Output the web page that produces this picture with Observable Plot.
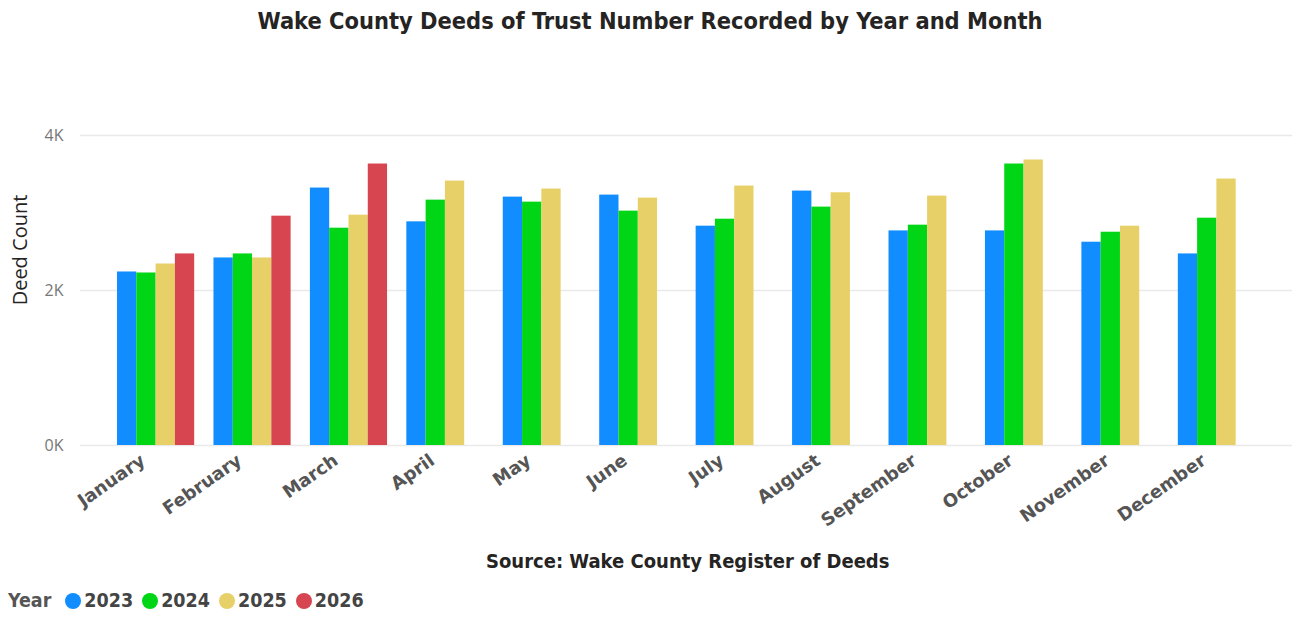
<!DOCTYPE html>
<html>
<head>
<meta charset="utf-8">
<script src="https://cdn.jsdelivr.net/npm/d3@7"></script>
<script src="https://cdn.jsdelivr.net/npm/@observablehq/plot@0.6"></script>
<style>
  html, body { margin: 0; padding: 0; background: #fff; }
  #wrap { position: relative; width: 1300px; height: 626px; overflow: hidden; }
  #title { position: absolute; top: 7px; left: 0; width: 1300px; text-align: center;
    font-family: "DejaVu Sans Condensed", "DejaVu Sans", sans-serif; font-weight: bold; font-size: 23.4px; color: #252423; white-space: nowrap; }
  #chart { position: absolute; top: 45px; left: 0; }
  #ylabel { position: absolute; left: 19px; top: 250px; transform: translate(-50%, -50%) rotate(-90deg);
    font-family: "Open Sans", sans-serif; font-size: 20px; color: #252423; white-space: nowrap; }
  #caption { position: absolute; top: 549px; left: 486px; width: 400px; text-align: center;
    font-family: "DejaVu Sans Condensed", "DejaVu Sans", sans-serif; font-weight: bold; font-size: 20px; color: #252423; white-space: nowrap; }
  #legend { position: absolute; top: 589px; left: 8px; display: flex; align-items: center;
    font-family: "DejaVu Sans Condensed", "DejaVu Sans", sans-serif; font-weight: bold; font-size: 19.5px; color: #444; }
  #legend .hd { color: #555; margin-right: 14px; }
  #legend .it { display: flex; align-items: center; margin-right: 9px; }
  #legend .dot { width: 16px; height: 16px; border-radius: 50%; margin-right: 3px; }
</style>
</head>
<body>
<div id="wrap">
  <div id="title">Wake County Deeds of Trust Number Recorded by Year and Month</div>
  <div id="chart"></div>
  <div id="ylabel">Deed Count</div>
  <div id="caption">Source: Wake County Register of Deeds</div>
  <div id="legend"></div>
</div>
<script>
const months = ["January","February","March","April","May","June","July","August","September","October","November","December"];
const years = ["2023","2024","2025","2026"];
const colors = ["#118DFF","#00D615","#E8D068","#D64550"];
const v2023 = [2239, 2420, 3322, 2886, 3205, 3231, 2830, 3283, 2769, 2769, 2623, 2472];
const v2024 = [2226, 2472, 2804, 3166, 3140, 3024, 2920, 3076, 2843, 3632, 2752, 2933];
const v2025 = [2342, 2420, 2972, 3412, 3309, 3192, 3348, 3261, 3218, 3684, 2830, 3438];
const v2026 = [2472, 2959, 3632];
const yTicks = [0, 2000, 4000];

const series = [v2023, v2024, v2025, v2026];
const data = series.flatMap((vals, i) => vals.map((v, j) => ({month: months[j], year: years[i], value: v})));

const W = 1300, H = 490, mL = 80, mR = 8, mT = 90, mB = 90;
const pIn = 0.2, pOut = 0.384;
const step = (W - mL - mR) / (months.length - pIn + 2 * pOut);
const bw = step * (1 - pIn);
const slot = bw / years.length;

const chart = Plot.plot({
  width: W, height: H,
  marginLeft: mL, marginRight: mR, marginTop: mT, marginBottom: mB,
  style: {background: "transparent", overflow: "visible"},
  x: {domain: months, paddingInner: pIn, paddingOuter: pOut, round: false, label: null},
  y: {domain: [0, 4000], label: null},
  marks: [
    Plot.gridY(yTicks, {stroke: "#e9e9e9", strokeOpacity: 1, strokeWidth: 1.5}),
    ...years.map((yr, i) => Plot.barY(data.filter(d => d.year === yr), {
      x: "month", y: "value", fill: colors[i],
      insetLeft: i * slot, insetRight: (years.length - 1 - i) * slot
    })),
    Plot.axisY({ticks: yTicks, tickFormat: d => d / 1000 + "K", tickSize: 0, tickPadding: 17,
      fontSize: 16, fill: "#777", fontFamily: "Open Sans", label: null}),
    Plot.axisX({tickSize: 0, tickPadding: 8, tickRotate: -35, fontSize: 18, fontWeight: "bold",
      fill: "#555", fontFamily: "DejaVu Sans", label: null, dx: -13, dy: 5})
  ]
});
document.getElementById("chart").appendChild(chart);

const lg = document.getElementById("legend");
lg.innerHTML = '<span class="hd">Year</span>' + years.map((y, i) =>
  `<span class="it"><span class="dot" style="background:${colors[i]}"></span>${y}</span>`).join("");
</script>
</body>
</html>
